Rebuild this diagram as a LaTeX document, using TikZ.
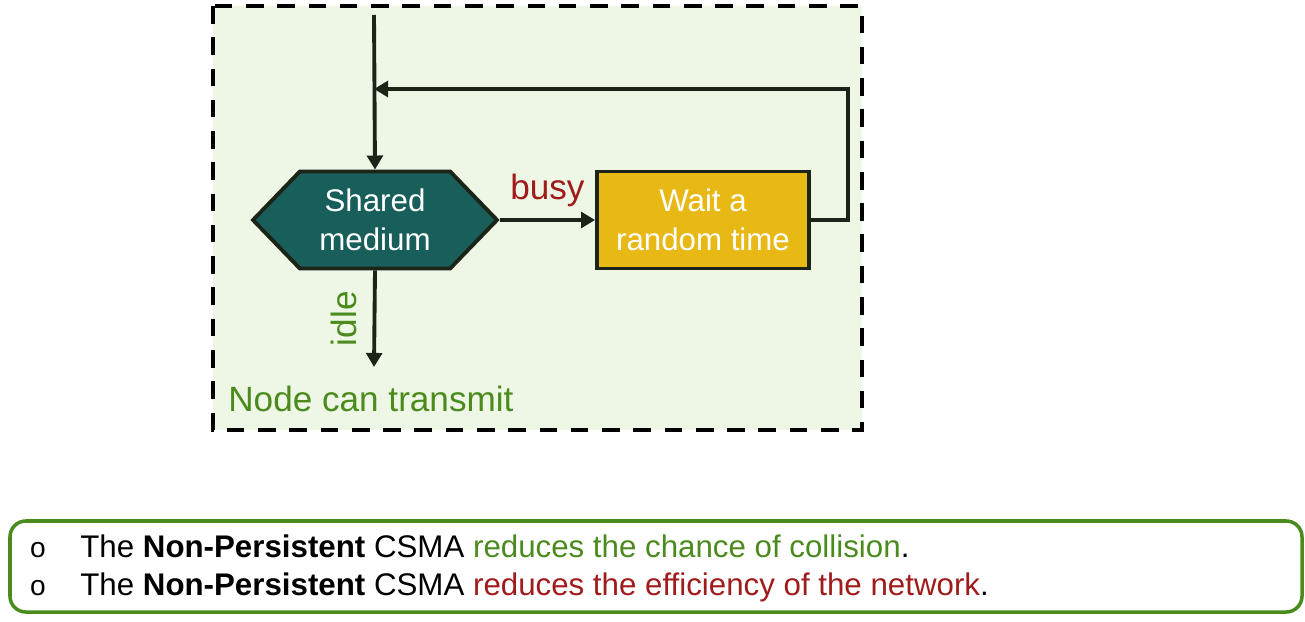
\documentclass[tikz,border=0pt]{standalone}
\usepackage{fontspec}
\setmainfont{Liberation Sans}
\usepackage{xcolor}
\usetikzlibrary{arrows.meta,shapes.symbols}

\definecolor{bgGreen}{HTML}{EEF7E5}
\definecolor{txtGreen}{HTML}{4B8B1E}
\definecolor{txtRed}{HTML}{A01B1B}
\definecolor{hexTeal}{HTML}{185F5B}
\definecolor{waitGold}{HTML}{E8B815}
\definecolor{edgeDark}{HTML}{1C2418}

\tikzset{
  flow/.style={draw=edgeDark, line width=2.2pt, -{Triangle[length=8pt,width=9pt]}},
  bigtxt/.style={font=\fontsize{17.8}{22}\selectfont},
  lbltxt/.style={font=\fontsize{20}{24}\selectfont},
}

\begin{document}
\begin{tikzpicture}[x=0.02cm,y=-0.02cm]
\useasboundingbox (0,0) rectangle (1305,622);

% dashed frame
\draw[fill=bgGreen, draw=black, line width=2.3pt, dash pattern=on 10pt off 7.8pt] (213,6) rectangle (862,430);

\node[signal, signal to=west and east, signal pointer angle=92,
      minimum width=4.88cm, minimum height=1.94cm, inner sep=0pt,
      fill=hexTeal, draw=edgeDark, line width=2.2pt,
      text=white, align=center, bigtxt] (medium) at (375,220) {Shared\\medium};

\node[rectangle, minimum width=4.24cm, minimum height=1.94cm,
      fill=waitGold, draw=edgeDark, line width=2.2pt,
      text=white, align=center, bigtxt] (wait) at (703,220) {Wait a\\random time};

\coordinate (top) at (374,15);
\coordinate (join) at (374,89);
\coordinate (corner) at (848,89);
\coordinate (out) at (374,367);

\draw[flow] (top) -- (medium.north);
\draw[flow] (medium.east) -- node[above, text=txtRed, lbltxt, yshift=3pt] (busy) {busy} (wait.west);
\draw[flow] (wait.east) -| (corner) -- (join);
\draw[flow] (medium.south) -- node[rotate=90, anchor=south, inner sep=9pt, text=txtGreen, lbltxt] (idle) {idle} (out);

\node[anchor=west, text=txtGreen, lbltxt, inner sep=0pt] (transmit) at (228,399) {Node can transmit};

% summary box
\draw[draw=txtGreen, line width=2pt, rounded corners=9pt] (10,521) rectangle (1302,612);

\node[anchor=base, font=\fontsize{16}{19}\selectfont, inner sep=0pt] (b1) at (38,557) {o};
\node[anchor=base west, bigtxt, inner sep=0pt] (l1) at (80,557)
  {The \textbf{Non-Persistent} CSMA \textcolor{txtGreen}{reduces the chance of collision}.};
\node[anchor=base, font=\fontsize{16}{19}\selectfont, inner sep=0pt] (b2) at (38,595) {o};
\node[anchor=base west, bigtxt, inner sep=0pt] (l2) at (80,595)
  {The \textbf{Non-Persistent} CSMA \textcolor{txtRed}{reduces the efficiency of the network}.};
\end{tikzpicture}
\end{document}
